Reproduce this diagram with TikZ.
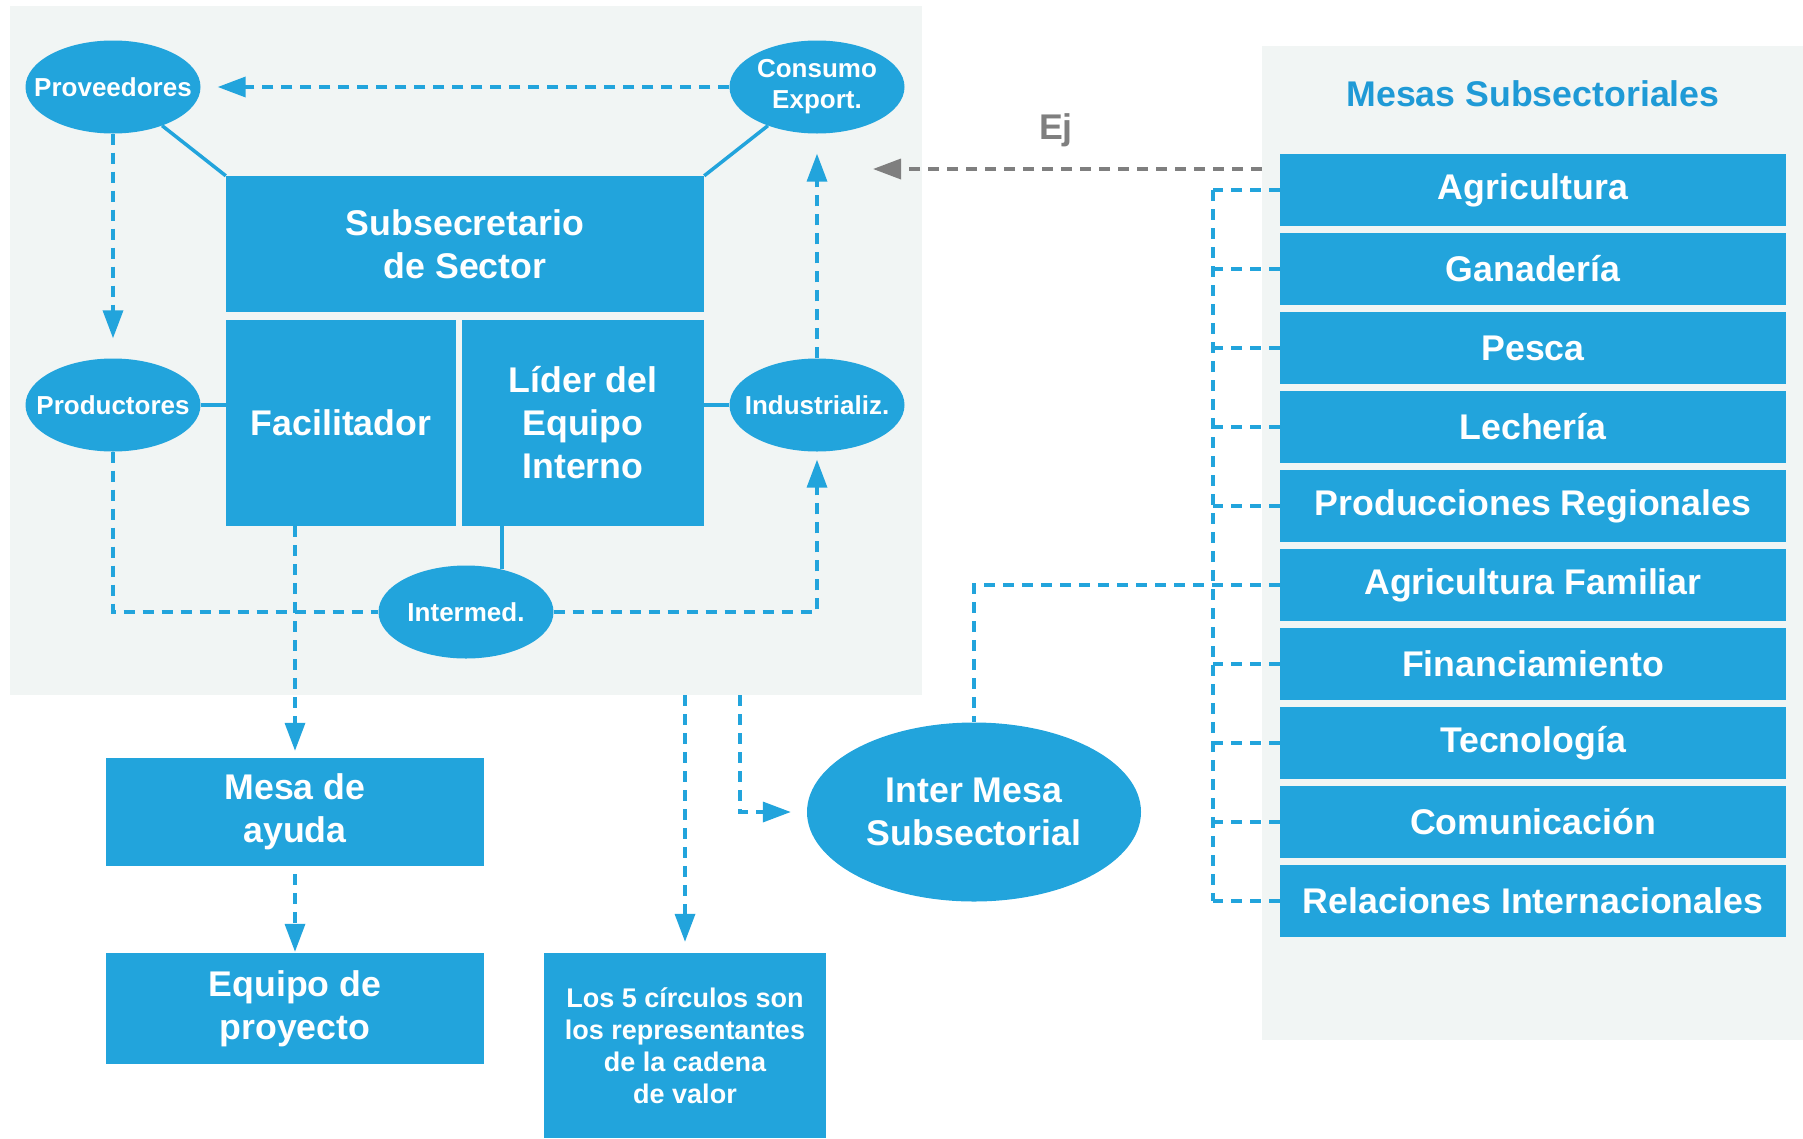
\documentclass[tikz,border=0pt]{standalone}
\usepackage{fontspec}
\setmainfont{Liberation Sans}
\usetikzlibrary{shapes.geometric,arrows.meta}
\definecolor{mblue}{HTML}{22A4DC}
\definecolor{panelc}{HTML}{F1F5F4}
\definecolor{tblue}{HTML}{1F9AD6}
\definecolor{agray}{HTML}{7F7F7F}
\begin{document}
\begin{tikzpicture}[x=1pt,y=-1pt,
  box/.style={rectangle, fill=mblue, draw=none, text=white, font=\bfseries\fontsize{35.7}{43}\selectfont, align=center, inner sep=0pt},
  oval/.style={ellipse, fill=mblue, text=white, font=\bfseries\fontsize{26}{31}\selectfont, align=center, inner xsep=-25pt, inner ysep=0pt, minimum width=175pt, minimum height=93pt},
  rowbox/.style={box, minimum width=506pt, minimum height=72pt},
  panelbox/.style={rectangle, fill=panelc, draw=none, inner sep=0pt},
  dline/.style={mblue, line width=3.5pt, dash pattern=on 11pt off 8pt},
  sline/.style={mblue, line width=3.5pt},
  gline/.style={agray, line width=3.5pt, dash pattern=on 11pt off 8pt},
  tip/.style={-{Triangle[length=28pt,width=20pt]}},
]
\useasboundingbox (0,0) rectangle (1803,1138);
% panels
\node[panelbox, minimum width=912pt, minimum height=689pt] (lpanel) at (466,350.5) {};
\node[panelbox, minimum width=541pt, minimum height=994pt] (rpanel) at (1532.5,543) {};

% left block
\node[box, minimum width=478pt, minimum height=136pt] (sub) at (465,244) {Subsecretario\\de Sector};
\node[box, minimum width=230pt, minimum height=206pt] (fac) at (341,423) {Facilitador};
\node[box, minimum width=242pt, minimum height=206pt] (lider) at (583,423) {Líder del\\Equipo\\Interno};

\node[oval] (prov) at (113,87) {Proveedores};
\node[oval] (cons) at (817,87) {Consumo\\Export.};
\node[oval] (prod) at (113,405) {Productores};
\node[oval] (ind) at (817,405) {Industrializ.};
\node[oval] (inter) at (466,612) {Intermed.};

% bottom
\node[box, minimum width=378pt, minimum height=108pt] (mesa) at (295,812) {Mesa de\\ayuda};
\node[box, minimum width=378pt, minimum height=111pt] (equipo) at (295,1008.5) {Equipo de\\proyecto};
\node[box, minimum width=282pt, minimum height=185pt, font=\bfseries\fontsize{27}{32}\selectfont] (los5) at (685,1045.5) {Los 5 círculos son\\los representantes\\de la cadena\\de valor};
\node[ellipse, fill=mblue, text=white, font=\bfseries\fontsize{35.7}{43}\selectfont, align=center, inner sep=0pt, minimum width=334pt, minimum height=179pt] (imesa) at (974,812) {Inter Mesa\\Subsectorial};

% right column
\node[font=\bfseries\fontsize{35.7}{43}\selectfont, text=tblue] (title) at (1533,94) {Mesas Subsectoriales};
\node[rowbox] (r0) at (1533,190) {Agricultura};
\node[rowbox] (r1) at (1533,269) {Ganadería};
\node[rowbox] (r2) at (1533,348) {Pesca};
\node[rowbox] (r3) at (1533,427) {Lechería};
\node[rowbox] (r4) at (1533,506) {Producciones Regionales};
\node[rowbox] (r5) at (1533,585) {Agricultura Familiar};
\node[rowbox] (r6) at (1533,664) {Financiamiento};
\node[rowbox] (r7) at (1533,743) {Tecnología};
\node[rowbox] (r8) at (1533,822) {Comunicación};
\node[rowbox] (r9) at (1533,901) {Relaciones Internacionales};

\node[font=\bfseries\fontsize{35.7}{43}\selectfont, text=agray] (ej) at (1056,130) {Ej};

% coordinates
\coordinate (tree) at (1213,190);
\coordinate (p1) at (685,695);
\coordinate (p2) at (740,695);
\coordinate (gstart) at (1262,169);
\coordinate (gend) at (873,169);

% solid links
\draw[sline] (prov) -- (sub.north west);
\draw[sline] (cons) -- (sub.north east);
\draw[sline] (prod.east) -- (prod.east -| fac.west);
\draw[sline] (ind.west -| lider.east) -- (ind.west);
\draw[sline] (lider.south -| inter.50) -- (inter.50);

% dashed arrows in left panel
\draw[dline, tip, shorten >=17pt] (cons) -- (prov);
\draw[dline, tip, shorten >=20pt] (prov) -- (prod);
\draw[dline] (prod) |- (inter);
\draw[dline, tip, shorten >=8pt] (inter) -| (ind);
\draw[dline, tip, shorten >=20pt] (ind) -- (cons);

% downward arrows
\draw[dline, tip, shorten >=7pt] (fac.south -| mesa) -- (mesa);
\draw[dline, tip, shorten <=8pt, shorten >=1pt] (mesa) -- (equipo);
\draw[dline, tip, shorten >=11pt] (p1) -- (los5);
\draw[dline, tip, shorten >=16pt] (p2) |- (imesa);

% right tree
\draw[dline] (r5.west) -| (imesa);
\draw[dline] (r0.west -| tree) -- (r9.west -| tree);
\foreach \r in {r0,r1,r2,r3,r4,r6,r7,r8,r9}{
  \draw[dline] (\r.west) -- (\r.west -| tree);
}

% gray arrow
\draw[gline, tip] (gstart) -- (gend);
\end{tikzpicture}
\end{document}
